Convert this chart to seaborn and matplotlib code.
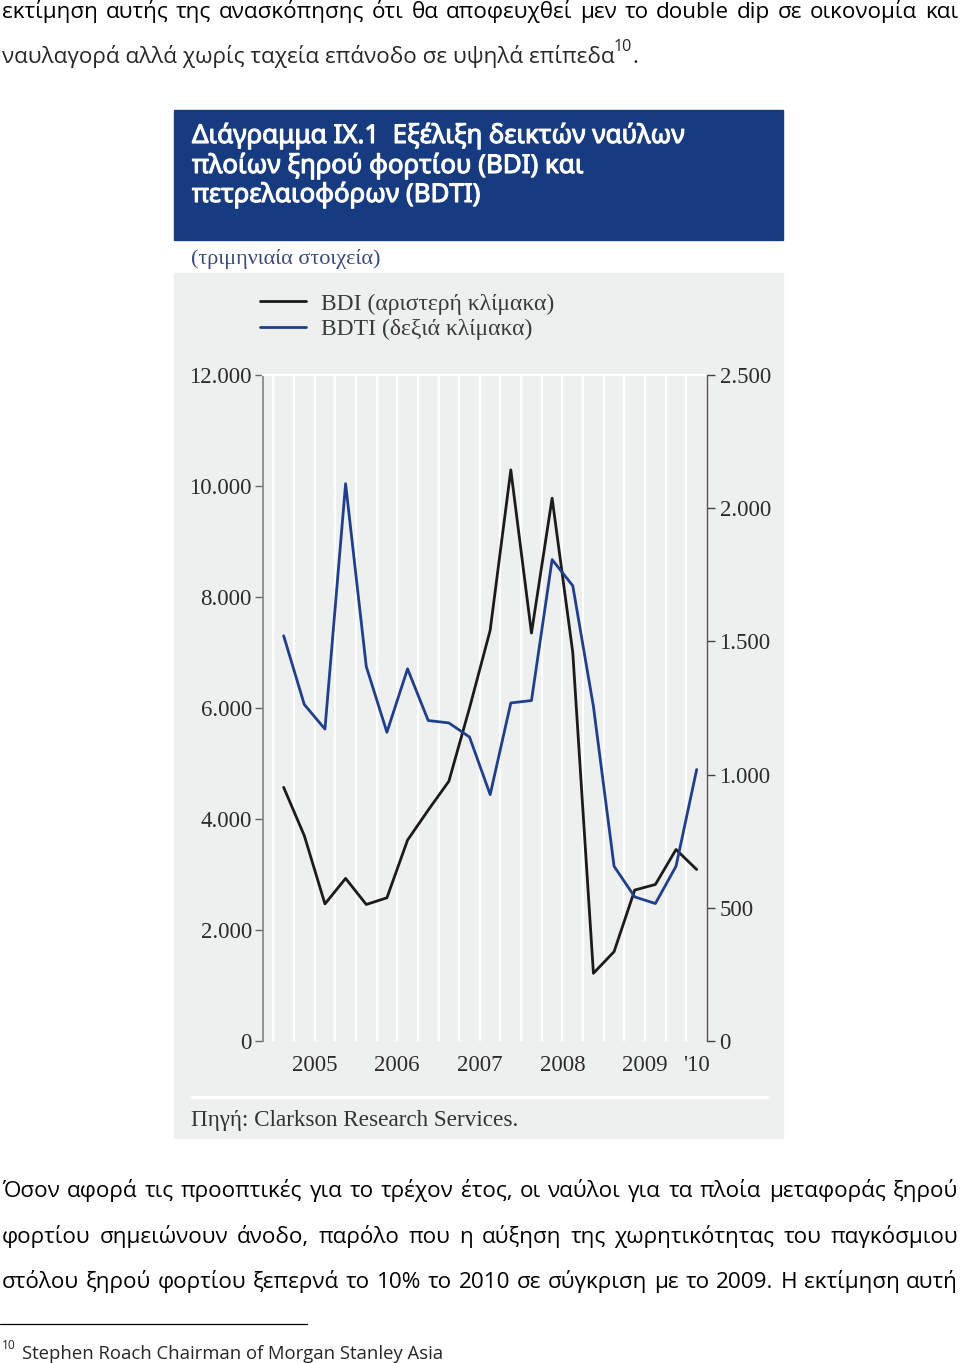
import matplotlib
matplotlib.use("Agg")
import matplotlib.pyplot as plt
import matplotlib.patheffects as pe
import seaborn as sns
import pandas as pd
from matplotlib.lines import Line2D
from matplotlib.patches import Rectangle

# quarterly data, 2005Q1 - 2010Q1
quarters = ["2005Q1", "2005Q2", "2005Q3", "2005Q4",
            "2006Q1", "2006Q2", "2006Q3", "2006Q4",
            "2007Q1", "2007Q2", "2007Q3", "2007Q4",
            "2008Q1", "2008Q2", "2008Q3", "2008Q4",
            "2009Q1", "2009Q2", "2009Q3", "2009Q4",
            "2010Q1"]
bdi = [4570, 3700, 2470, 2930, 2460, 2580, 3620, 4160, 4680, 6000, 7400,
       10290, 7350, 9780, 7000, 1220, 1610, 2720, 2820, 3450, 3090]
bdti = [1521, 1263, 1171, 2092, 1406, 1159, 1397, 1203, 1194, 1141, 925,
        1269, 1278, 1807, 1709, 1256, 656, 541, 516, 656, 1019]

year_labels = ["2005", "2006", "2007", "2008", "2009", "'10"]
year_pos = [1.5, 5.5, 9.5, 13.5, 17.5, 20]
left_ticks = [0, 2000, 4000, 6000, 8000, 10000, 12000]
right_ticks = [0, 500, 1000, 1500, 2000, 2500]

legend_labels = ["BDI (αριστερή κλίμακα)", "BDTI (δεξιά κλίμακα)"]
title_lines = ["Διάγραμμα IX.1  Εξέλιξη δεικτών ναύλων",
               "πλοίων ξηρού φορτίου (BDI) και",
               "πετρελαιοφόρων (BDTI)"]
subtitle = "(τριμηνιαία στοιχεία)"
source = "Πηγή: Clarkson Research Services."

top_line1 = "εκτίμηση αυτής της ανασκόπησης ότι θα αποφευχθεί μεν το double dip σε οικονομία και"
top_line2 = "ναυλαγορά αλλά χωρίς ταχεία επάνοδο σε υψηλά επίπεδα"
bottom_lines = ["Όσον αφορά τις προοπτικές για το τρέχον έτος, οι ναύλοι για τα πλοία μεταφοράς ξηρού",
                "φορτίου σημειώνουν άνοδο, παρόλο που η αύξηση της χωρητικότητας του παγκόσμιου",
                "στόλου ξηρού φορτίου ξεπερνά το 10% το 2010 σε σύγκριση με το 2009. Η εκτίμηση αυτή"]
footnote = "Stephen Roach Chairman of Morgan Stanley Asia"

df = pd.DataFrame({"quarter": quarters, "BDI": bdi, "BDTI": bdti})
df["pos"] = range(len(df))

sns.set_style("white")
plt.rcParams["font.family"] = ["Liberation Serif", "DejaVu Serif"]

BODY = ["Open Sans", "DejaVu Sans"]
SERIF = ["Liberation Serif", "DejaVu Serif"]
TITLE = ["Noto Sans", "DejaVu Sans"]
NAVY = "#173b80"
BLUE = "#1f3f8c"
PANEL = "#eeefef"

W, H = 960, 1363
fig = plt.figure(figsize=(W / 100, H / 100), dpi=100)
fig.patch.set_facecolor("white")
renderer = fig.canvas.get_renderer()


def fx(x):
    return x / W


def fy(y):
    return 1 - y / H


def width_of(s, size, family, weight="normal"):
    t = fig.text(0, 0, s, fontsize=size, family=family, weight=weight)
    w = t.get_window_extent(renderer).width
    t.remove()
    return w


def fit(s, target, family, weight="normal"):
    return 20 * target / width_of(s, 20, family, weight)


def justify(line, y, x0, x1, size, family):
    words = line.split()
    ws = [width_of(w, size, family) for w in words]
    gap = (x1 - x0 - sum(ws)) / (len(words) - 1)
    x = x0
    for w, wd in zip(words, ws):
        fig.text(fx(x), fy(y), w, fontsize=size, family=family,
                 va="baseline", color="black")
        x += wd + gap


# body text above the chart
body_size = fit(top_line2, 612, BODY)
justify(top_line1, 18, 2, 958, body_size, BODY)
fig.text(fx(2), fy(63), top_line2, fontsize=body_size, family=BODY, va="baseline")
fig.text(fx(614), fy(51), "10", fontsize=body_size * 0.72, family=BODY, va="baseline")
fig.text(fx(632), fy(63), ".", fontsize=body_size, family=BODY, va="baseline")

# chart frame
fig.add_artist(Rectangle((fx(174), fy(240)), (783 - 174) / W, 130 / H,
                         transform=fig.transFigure, color=NAVY, zorder=-2))
fig.add_artist(Rectangle((fx(174), fy(1138)), (783 - 174) / W, (1138 - 273) / H,
                         transform=fig.transFigure, color=PANEL, zorder=-2))

# bold look via a thin white stroke around the glyphs
title_size = fit(title_lines[0], 492, TITLE)
for line, yb in zip(title_lines, [143, 173, 202]):
    fig.text(fx(192), fy(yb), line, fontsize=title_size, family=TITLE,
             color="white", va="baseline",
             path_effects=[pe.withStroke(linewidth=0.8, foreground="white")])

fig.text(fx(191), fy(264), subtitle, fontsize=fit(subtitle, 190, SERIF),
         family=SERIF, color="#3b4a78", va="baseline")

# plot area
ax = fig.add_axes([fx(263), fy(1041), (707 - 263) / W, (1041 - 375) / H])
ax.set_facecolor(PANEL)
sns.lineplot(data=df, x="pos", y="BDI", ax=ax, color="#1b1b1b", lw=2.0)
ax2 = ax.twinx()
sns.lineplot(data=df, x="pos", y="BDTI", ax=ax2, color=BLUE, lw=2.0)

ax.set_xlim(-1.0, 20.5)
ax.set_ylim(0, 12000)
ax2.set_ylim(0, 2500)

ax.set_yticks(left_ticks)
ax.set_yticklabels([f"{v:,}".replace(",", ".") for v in left_ticks])
ax2.set_yticks(right_ticks)
ax2.set_yticklabels([f"{v:,}".replace(",", ".") for v in right_ticks])

ax.xaxis.remove_overlapping_locs = False
ax.set_xticks(year_pos)
ax.set_xticklabels(year_labels)
ax.set_xticks([p - 0.5 for p in df["pos"][:-1]] + [19.5], minor=True)
ax.grid(which="minor", axis="x", color="white", lw=1.6)

ax.tick_params(axis="y", direction="out", length=6, width=1, color="#666",
               pad=2, labelsize=16.5, labelcolor="#2b2b2b")
ax.tick_params(axis="x", which="major", length=0, pad=10, labelsize=16.5,
               labelcolor="#2b2b2b")
ax.tick_params(axis="x", which="minor", direction="out", length=8, width=1,
               color="#555")
ax2.tick_params(axis="y", direction="out", length=6, width=1, color="#444",
                pad=3, labelsize=16.5, labelcolor="#2b2b2b")

for a in (ax, ax2):
    a.set_xlabel("")
    a.set_ylabel("")
ax.spines["top"].set_color("white")
ax.spines["top"].set_linewidth(1.6)
ax.spines["bottom"].set_visible(False)
ax.spines["right"].set_visible(False)
ax.spines["left"].set_color("#8a8a8a")
ax.spines["left"].set_linewidth(1.3)
for s in ("top", "bottom", "left"):
    ax2.spines[s].set_visible(False)
ax2.spines["right"].set_color("#555")
ax2.spines["right"].set_linewidth(1.0)

fig.legend([ax.lines[0], ax2.lines[0]], legend_labels, loc="upper left",
           bbox_to_anchor=(fx(260), fy(293)), bbox_transform=fig.transFigure,
           frameon=False, prop={"family": SERIF, "size": 17},
           handlelength=1.95, handletextpad=0.62, labelspacing=0.17,
           borderpad=0, borderaxespad=0, labelcolor="#3a3a3a")

fig.add_artist(Line2D([fx(192), fx(767)], [fy(1097), fy(1097)], color="white",
                      lw=2.2, transform=fig.transFigure))
fig.text(fx(191), fy(1126), source, fontsize=fit(source, 328, SERIF),
         family=SERIF, color="#333", va="baseline")

# body text below the chart
for line, yb in zip(bottom_lines, [1197, 1243, 1288]):
    justify(line, yb, 2, 958, body_size, BODY)

# footnote
fig.add_artist(Line2D([0, fx(307)], [fy(1324), fy(1324)], color="black",
                      lw=0.9, transform=fig.transFigure))
foot_size = fit(footnote, 420, BODY)
fig.text(fx(2), fy(1349), "10", fontsize=foot_size * 0.65, family=BODY, va="baseline")
fig.text(fx(22), fy(1359), footnote, fontsize=foot_size, family=BODY, va="baseline")

fig.savefig("out.png", dpi=100)
